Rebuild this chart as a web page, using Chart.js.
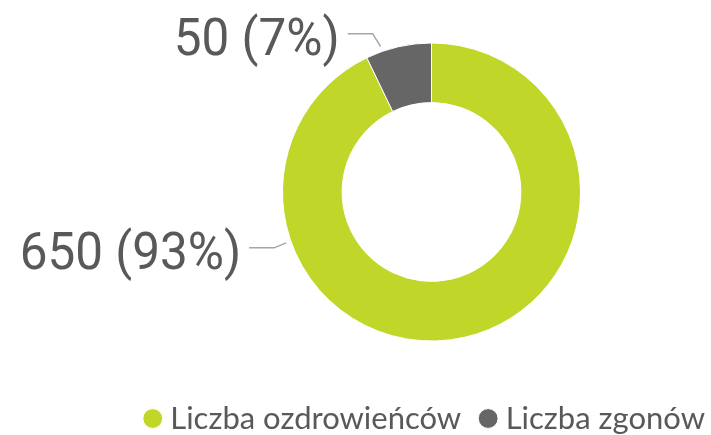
<!DOCTYPE html>
<html>
<head>
<meta charset="utf-8">
<script src="https://cdn.jsdelivr.net/npm/chart.js@4.4.1/dist/chart.umd.min.js"></script>
<style>
html, body { margin: 0; padding: 0; background: #fff; }
#wrap { width: 711px; height: 435px; position: relative; }
</style>
</head>
<body>
<div id="wrap"><canvas id="donut"></canvas></div>
<script>
const categories = ['Liczba ozdrowieńców', 'Liczba zgonów'];
const values = [650, 50];
const sliceColors = ['#c0d72a', '#666666'];

// where each callout leaves its slice (fraction along the arc) and where the elbow sits
const callouts = [
    { frac: 0.75, elbowDx: -12, elbowDy: 5 },
    { frac: 0.25, elbowDx: -8, elbowDy: -13 }
];

// the doughnut sits right of centre in the original, the legend keeps the full width
const shiftPlot = {
    id: 'shiftPlot',
    afterLayout(chart) {
        const ca = chart.chartArea;
        ca.left = 152;
        ca.right = 711;
        ca.width = ca.right - ca.left;
    }
};

const calloutPlugin = {
    id: 'callouts',
    afterDatasetsDraw(chart) {
        const ctx = chart.ctx;
        const meta = chart.getDatasetMeta(0);
        const total = values.reduce((a, b) => a + b, 0);
        meta.data.forEach((arc, i) => {
            const c = callouts[i];
            const ang = arc.startAngle + (arc.endAngle - arc.startAngle) * c.frac;
            const r = arc.outerRadius + 5;
            const ax = arc.x + Math.cos(ang) * r;
            const ay = arc.y + Math.sin(ang) * r;
            const ex = ax + c.elbowDx;
            const ey = ay + c.elbowDy;
            const lx = ex - 25;
            ctx.save();
            ctx.strokeStyle = '#a6a6a6';
            ctx.lineWidth = 1.5;
            ctx.beginPath();
            ctx.moveTo(ax, ay);
            ctx.lineTo(ex, ey);
            ctx.lineTo(lx, ey);
            ctx.stroke();
            const pct = Math.round(values[i] / total * 100);
            ctx.font = '52px Roboto, "Noto Sans", sans-serif';
            ctx.fillStyle = '#595959';
            ctx.textAlign = 'right';
            ctx.textBaseline = 'alphabetic';
            ctx.translate(lx - 8, ey + 21);
            ctx.scale(0.95, 1);
            ctx.fillText(values[i] + ' (' + pct + '%)', 0, 0);
            ctx.restore();
        });
    }
};

new Chart(document.getElementById('donut'), {
    type: 'doughnut',
    data: {
        labels: categories,
        datasets: [{
            data: values,
            backgroundColor: sliceColors,
            borderColor: '#ffffff',
            borderWidth: 1,
            radius: 149,
            cutout: '60%'
        }]
    },
    options: {
        responsive: true,
        maintainAspectRatio: false,
        animation: false,
        layout: { padding: { left: 0, right: -19, top: 6, bottom: -9 } },
        plugins: {
            legend: {
                position: 'bottom',
                align: 'end',
                labels: {
                    usePointStyle: true,
                    pointStyle: 'circle',
                    boxWidth: 4,
                    boxHeight: 14,
                    padding: 25,
                    color: '#595959',
                    font: { family: 'Lato', size: 31 }
                }
            },
            tooltip: { enabled: false }
        }
    },
    plugins: [shiftPlot, calloutPlugin]
});
</script>
</body>
</html>
